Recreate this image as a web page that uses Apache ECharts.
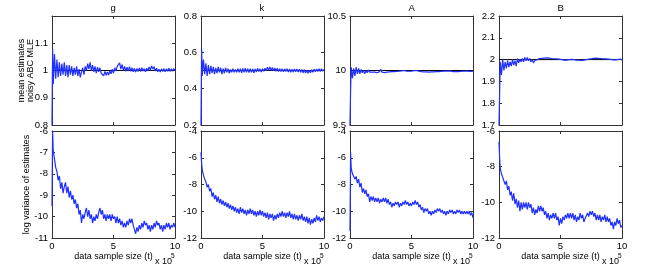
<!DOCTYPE html>
<html>
<head>
<meta charset="utf-8">
<script src="https://cdn.jsdelivr.net/npm/echarts@6/dist/echarts.min.js"></script>
<style>
html, body { margin: 0; background: #fff; }
#abcChart { width: 647px; height: 272px; }
</style>
</head>
<body>
<div id="abcChart"></div>
<script>
// parameters and their true values (black reference lines)
const params = ['g', 'k', 'A', 'B'];
const trueValues = [1, 0.5, 10, 2];

// x grid, in units of 10^5 samples
const sampleSize = [0, 0.05];
for (let i = 1; i <= 100; i++) sampleSize.push(i / 10);

const meanG = [0.80, 1.08,
  0.95, 1.06, 0.97, 1.04, 0.975, 1.03, 0.98, 1.025, 0.985, 1.03,
  0.98, 1.02, 0.975, 1.02, 0.985, 1.015, 0.98, 1.01, 0.985, 1.015,
  0.98, 1.005, 0.975, 0.995, 1.01, 0.985, 1.015, 1.0, 1.025, 1.005,
  1.03, 1.0, 1.02, 0.995, 1.015, 0.99, 1.012, 0.995, 1.01, 0.99,
  0.995, 0.98, 0.997, 0.982, 0.995, 0.983, 0.998, 0.988, 1.005, 0.99,
  1.01, 0.998, 1.015, 1.01, 1.028, 1.005, 1.022, 1.0, 1.015, 0.997,
  1.012, 0.998, 1.014, 0.997, 1.01, 0.995, 1.008, 0.994, 1.007, 0.996,
  1.009, 0.996, 1.01, 0.998, 1.007, 0.995, 1.008, 0.998, 1.013, 1.002,
  1.017, 1.005, 1.014, 0.998, 1.008, 0.995, 1.005, 0.994, 1.006, 0.996,
  1.007, 0.995, 1.006, 0.997, 1.008, 0.996, 1.006, 0.997, 1.007, 1.0];
const meanK = [0.2, 0.62,
  0.47, 0.56, 0.48, 0.54, 0.47, 0.53, 0.48, 0.525, 0.485, 0.52,
  0.48, 0.515, 0.485, 0.52, 0.49, 0.515, 0.48, 0.51, 0.485, 0.515,
  0.49, 0.51, 0.485, 0.505, 0.49, 0.51, 0.49, 0.505, 0.49, 0.51,
  0.49, 0.51, 0.487, 0.512, 0.49, 0.513, 0.49, 0.51, 0.488, 0.51,
  0.49, 0.508, 0.487, 0.509, 0.492, 0.512, 0.494, 0.509, 0.491, 0.51,
  0.496, 0.513, 0.498, 0.518, 0.502, 0.519, 0.5, 0.516, 0.499, 0.514,
  0.496, 0.512, 0.495, 0.51, 0.494, 0.509, 0.493, 0.509, 0.494, 0.51,
  0.492, 0.508, 0.49, 0.507, 0.491, 0.509, 0.493, 0.508, 0.492, 0.507,
  0.49, 0.506, 0.488, 0.504, 0.486, 0.502, 0.485, 0.501, 0.487, 0.504,
  0.49, 0.507, 0.493, 0.508, 0.494, 0.509, 0.495, 0.51, 0.496, 0.506];
const meanA = [9.5, 9.83,
  10.03, 9.93, 10.02, 9.95, 10.03, 9.97, 10.02, 9.97, 10.01, 9.98,
  10.0, 9.97, 10.0, 9.98, 10.005, 9.985, 10.0, 9.985, 10.0, 9.985,
  9.995, 9.98, 9.995, 9.99, 10.01, 9.985, 9.995, 9.98, 9.99, 9.985,
  9.995, 9.988, 9.997, 9.99, 9.998, 9.99, 10.0, 9.992, 10.0, 9.995,
  10.005, 9.996, 10.01, 10.0, 10.008, 9.995, 10.0, 9.993, 10.002, 9.995,
  10.005, 9.998, 10.01, 10.0, 10.008, 9.995, 10.0, 9.99, 9.995, 9.988,
  9.994, 9.987, 9.993, 9.986, 9.992, 9.987, 9.994, 9.988, 9.995, 9.99,
  9.997, 9.99, 9.998, 9.992, 10.0, 9.993, 10.003, 9.995, 10.005, 9.997,
  10.003, 9.994, 9.998, 9.99, 9.996, 9.989, 9.995, 9.99, 9.997, 9.992,
  9.998, 9.993, 9.999, 9.994, 10.0, 9.994, 9.998, 9.992, 9.996, 9.994];
const meanB = [1.7, 1.84,
  1.99, 1.93, 2.0, 1.95, 1.99, 1.96, 1.995, 1.965, 1.99, 1.97,
  2.0, 1.975, 1.995, 1.97, 2.005, 1.985, 2.0, 1.99, 2.005, 1.99,
  2.01, 1.995, 2.01, 1.995, 2.005, 1.99, 2.0, 1.985, 1.995, 1.988,
  2.0, 1.995, 2.005, 1.997, 2.006, 1.998, 2.007, 2.0, 2.008, 2.0,
  2.007, 1.998, 2.005, 1.997, 2.004, 1.996, 2.003, 1.995, 2.002, 1.995,
  2.0, 1.993, 1.998, 1.992, 1.998, 1.993, 2.0, 1.994, 2.001, 1.995,
  2.0, 1.993, 1.998, 1.991, 1.997, 1.99, 1.996, 1.991, 1.998, 1.993,
  2.0, 1.995, 2.002, 1.997, 2.004, 1.999, 2.006, 2.0, 2.007, 2.001,
  2.006, 2.0, 2.005, 1.999, 2.004, 1.998, 2.003, 1.997, 2.002, 1.996,
  2.001, 1.994, 1.999, 1.993, 1.999, 1.995, 2.001, 1.996, 2.002, 1.998];

const logVarG = [-9.5, -6.0,
  -6.9, -7.3, -7.7, -7.9, -8.3, -8.1, -8.7, -8.4, -8.9, -8.6,
  -8.4, -8.9, -8.6, -9.1, -8.8, -9.2, -9.0, -9.4, -9.2, -9.6,
  -9.4, -9.9, -9.7, -10.3, -9.9, -10.1, -9.8, -9.6, -10.0, -9.7,
  -10.1, -9.9, -10.3, -10.0, -10.2, -9.9, -10.1, -9.8, -9.6, -9.9,
  -9.7, -10.1, -9.9, -10.2, -9.9, -10.1, -9.9, -10.2, -9.9, -10.1,
  -10.0, -10.3, -10.0, -10.3, -10.1, -10.4, -10.2, -10.5, -10.3, -10.5,
  -10.2, -10.4, -10.1, -10.3, -10.1, -10.4, -10.6, -10.8, -10.5, -10.7,
  -10.4, -10.6, -10.3, -10.5, -10.2, -10.4, -10.3, -10.6, -10.4, -10.7,
  -10.4, -10.6, -10.3, -10.5, -10.2, -10.4, -10.3, -10.6, -10.4, -10.7,
  -10.4, -10.6, -10.3, -10.5, -10.3, -10.6, -10.4, -10.5, -10.3, -10.5];
const logVarK = [-5.6, -6.4,
  -6.9, -7.3, -7.6, -7.8, -8.2, -8.0, -8.5, -8.3, -8.9, -8.6,
  -9.1, -8.8, -9.3, -8.9, -9.4, -9.1, -9.5, -9.2, -9.6, -9.3,
  -9.7, -9.4, -9.8, -9.5, -9.9, -9.6, -10.0, -9.7, -10.1, -9.8,
  -10.2, -9.7, -10.1, -9.8, -10.2, -9.9, -10.3, -9.9, -10.2, -9.8,
  -10.2, -9.9, -10.3, -10.0, -10.4, -10.0, -10.3, -9.9, -10.3, -10.0,
  -10.4, -10.1, -10.5, -10.1, -10.6, -10.2, -10.5, -10.2, -10.7, -10.3,
  -10.6, -10.2, -10.5, -10.1, -10.4, -10.0, -10.4, -10.1, -10.5, -10.1,
  -10.4, -10.0, -10.5, -10.2, -10.6, -10.2, -10.6, -10.3, -10.7, -10.3,
  -10.6, -10.2, -10.7, -10.4, -10.8, -10.4, -10.9, -10.5, -11.0, -10.6,
  -10.9, -10.5, -10.8, -10.3, -10.7, -10.4, -10.8, -10.5, -10.7, -10.4];
const logVarA = [-11.5, -5.6,
  -6.8, -7.2, -7.1, -7.6, -7.4, -7.9, -7.6, -8.2, -7.9, -8.6,
  -8.3, -8.7, -8.4, -8.9, -8.7, -9.3, -8.9, -9.2, -8.9, -9.3,
  -9.0, -9.3, -9.0, -9.4, -9.1, -9.3, -9.0, -9.3, -9.0, -9.4,
  -9.1, -9.5, -9.3, -9.7, -9.4, -9.6, -9.3, -9.5, -9.3, -9.7,
  -9.4, -9.6, -9.3, -9.5, -9.2, -9.5, -9.3, -9.6, -9.4, -9.6,
  -9.3, -9.5, -9.2, -9.5, -9.3, -9.7, -9.5, -9.9, -9.7, -10.1,
  -9.8, -10.0, -9.8, -10.2, -10.0, -10.3, -10.0, -10.2, -9.9, -10.1,
  -9.8, -10.0, -9.8, -10.1, -9.9, -10.2, -10.0, -10.3, -10.0, -10.2,
  -9.9, -10.1, -9.9, -10.2, -10.0, -10.2, -9.9, -10.1, -9.9, -10.2,
  -10.0, -10.2, -10.0, -10.2, -10.0, -10.2, -10.0, -10.3, -10.1, -10.5];
const logVarB = [-6.6, -7.5,
  -8.1, -8.4, -8.6, -8.7, -9.0, -8.8, -9.3, -9.1, -9.6, -9.4,
  -9.9, -9.5, -10.1, -9.8, -10.3, -9.9, -10.5, -10.0, -10.4, -10.0,
  -10.3, -10.0, -10.4, -10.0, -10.3, -10.1, -10.6, -10.3, -10.7, -10.4,
  -10.6, -10.2, -10.5, -10.2, -10.5, -10.3, -10.7, -10.5, -10.9, -10.6,
  -11.0, -10.7, -10.9, -10.6, -10.9, -10.6, -11.0, -10.8, -11.3, -10.9,
  -11.2, -10.8, -11.0, -10.7, -10.9, -10.6, -10.9, -10.6, -10.9, -10.6,
  -11.0, -10.7, -11.1, -10.8, -11.0, -10.6, -10.9, -10.7, -11.1, -10.9,
  -11.0, -10.6, -10.8, -10.5, -10.7, -10.5, -10.8, -10.6, -11.0, -10.7,
  -11.0, -10.7, -11.1, -10.8, -11.0, -10.7, -11.1, -10.8, -11.1, -10.9,
  -11.3, -11.1, -11.5, -11.1, -11.3, -10.9, -11.2, -11.0, -11.4, -11.3];

const meanSeries = [meanG, meanK, meanA, meanB];
const logVarSeries = [logVarG, logVarK, logVarA, logVarB];

// [min, max, interval]
const meanRanges = [[0.8, 1.2, 0.1], [0.2, 0.8, 0.2], [9.5, 10.5, 0.5], [1.7, 2.2, 0.1]];
const logVarRanges = [[-11, -6, 1], [-12, -4, 2], [-12, -4, 2], [-12, -6, 2]];
const xRange = [0, 10, 5];

const chart = echarts.init(document.getElementById('abcChart'));

const font = 'Liberation Sans, Arial, sans-serif';
const lefts = [52, 201, 350, 499];
const plotW = 123;
const rows = [{ top: 16, height: 109 }, { top: 131, height: 107 }];

const grid = [], xAxis = [], yAxis = [], series = [], graphic = [];

function axisBase (pos) {
  return {
    position: pos,
    axisLine: { show: true, onZero: false, lineStyle: { color: '#333', width: 1 } },
    axisTick: { show: true, inside: true, length: 3, lineStyle: { color: '#333' } },
    splitLine: { show: false },
    axisLabel: { fontSize: 9.5, color: '#000', fontFamily: font, margin: 4 }
  }
}

for (let r = 0; r < 2; r++) {
  for (let i = 0; i < 4; i++) {
    const g = r * 4 + i;
    grid.push({ left: lefts[i], top: rows[r].top, width: plotW, height: rows[r].height });
    const yr = r === 0 ? meanRanges[i] : logVarRanges[i];

    const xb = axisBase('bottom');
    Object.assign(xb, { type: 'value', gridIndex: g, min: xRange[0], max: xRange[1], interval: xRange[2] });
    xb.axisLabel.show = r === 1;
    xb.axisLabel.margin = 3;
    if (r === 1) {
      xb.name = 'data sample size (t)';
      xb.nameLocation = 'middle';
      xb.nameGap = 14;
      xb.nameMoveOverlap = false;
      xb.nameTextStyle = { fontSize: 9, color: '#000', fontFamily: font };
    }
    const xt = axisBase('top');
    Object.assign(xt, { type: 'value', gridIndex: g, min: xRange[0], max: xRange[1], interval: xRange[2] });
    xt.axisLabel.show = false;
    xAxis.push(xb, xt);

    const yl = axisBase('left');
    Object.assign(yl, { type: 'value', gridIndex: g, min: yr[0], max: yr[1], interval: yr[2] });
    if (r === 0 && i === 0) yl.axisLabel.showMaxLabel = false;
    if (i === 0) {
      yl.name = r === 0 ? 'mean estimates\nnoisy ABC MLE' : 'log variance of estimates';
      yl.nameLocation = 'middle';
      yl.nameRotate = 90;
      yl.nameGap = r === 0 ? 16.5 : 21;
      yl.nameMoveOverlap = false;
      yl.nameTextStyle = { fontSize: 9, color: '#000', fontFamily: font, lineHeight: 9 };
    }
    const yrt = axisBase('right');
    Object.assign(yrt, { type: 'value', gridIndex: g, min: yr[0], max: yr[1], interval: yr[2] });
    yrt.axisLabel.show = false;
    yAxis.push(yl, yrt);

    if (r === 0) {
      // true value, drawn underneath the estimates
      series.push({
        type: 'line',
        xAxisIndex: 2 * g,
        yAxisIndex: 2 * g,
        data: [[xRange[0], trueValues[i]], [xRange[1], trueValues[i]]],
        showSymbol: false,
        lineStyle: { color: '#000', width: 1 }
      });
    }
    const ys = r === 0 ? meanSeries[i] : logVarSeries[i];
    series.push({
      type: 'line',
      xAxisIndex: 2 * g,
      yAxisIndex: 2 * g,
      data: ys.map((v, k) => [sampleSize[k], v]),
      showSymbol: false,
      lineStyle: { color: '#1f2fff', width: 1.2 },
      clip: true
    });

    if (r === 0) {
      graphic.push({
        type: 'text', left: lefts[i] + plotW / 2 - 3, top: 3,
        style: { text: params[i], font: '9.5px ' + font, fill: '#000' }
      });
    } else {
      graphic.push({
        type: 'text', left: lefts[i] + 103, top: 257,
        style: { text: 'x 10', font: '9px ' + font, fill: '#000' }
      });
      graphic.push({
        type: 'text', left: lefts[i] + 119, top: 253,
        style: { text: '5', font: '6.5px ' + font, fill: '#000' }
      });
    }
  }
}

chart.setOption({
  backgroundColor: '#fff',
  animation: false,
  grid: grid,
  xAxis: xAxis,
  yAxis: yAxis,
  series: series,
  graphic: graphic
});
</script>
</body>
</html>
